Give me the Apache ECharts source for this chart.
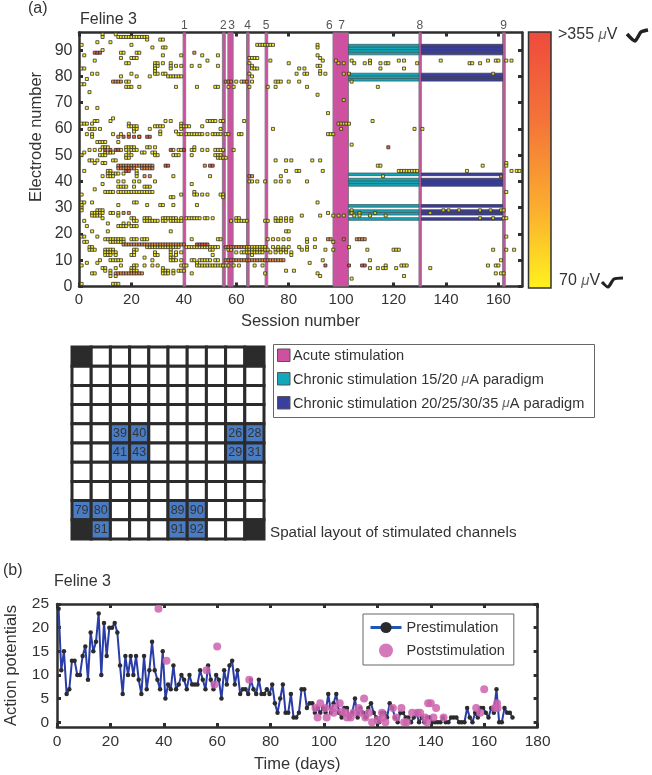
<!DOCTYPE html>
<html><head><meta charset="utf-8">
<style>html,body{margin:0;padding:0;background:#fff}#c{width:652px;height:775px}</style>
<script src="https://cdn.jsdelivr.net/npm/echarts@6/dist/echarts.min.js"></script>
</head><body><div id="c"></div>
<script>
// ---------- panel (a): spike raster, rows of [electrode, [sessions]] ----------
const yellowRows = [
[96,[9,14]],[95,[9,15,16,17,18,19,20,21,22,23,24,25,26]],[94,[26,31,32]],[93,[7,12]],
[92,[1,20,68,69,70,71,72,73,74,91]],[91,[28,32,33,91]],[90,[9]],[89,[16,17,22,23]],
[88,[2,32,39,47,53,91]],[87,[16,20,21,22,65,66,67,68,92]],[86,[6,49,73,93,98,104,111,122,124,138,156,159,160,163,165]],
[85,[18,19,29,30,32,35,65,80,99,101,105,109,111,115,117,118,129,149,150,153]],
[84,[29,30,35,37,39,43,46,53,66,91,92]],[83,[1,2,29,35,66,67,68,84,86,115,124]],[82,[29,92]],
[81,[5,7,20,29,30,32,33,65,83,86,87,92,94,101,103,158]],[80,[16,22,27,34,35,36,37,38,39,66]],[79,[3]],
[78,[18,19,60,62,66,75,76,77,80,84,104]],[77,[1,2]],[76,[18,19,20,23,37,45,52,53,57,59,65,72,75,87,114]],
[74,[4]],[73,[91]],[71,[101]],[68,[3,7]],[66,[95]],[64,[13]],[63,[6,7,12,33,35,49,50,51,52,54,55,63,112]],
[62,[1,2,3,5,19,39,99,100,101,102,103]],[61,[19,20,21,22,29,30,31,32,39,40,41,42,47]],
[60,[4,5,6,8,21,22,27,39,54,74,100,128,131]],[59,[21,31,37]],[58,[3,5,13,16,19,31,38,39,41,42,43,44,45,46,47,49,51,52,53,54,56,57,61,62,95,96,97]],
[57,[5,23]],[55,[7,8,9,10,15]],[54,[104]],[53,[9,10,11,18,19,20,21,26,27,29,44]],
[52,[4,6,8,16,18,20,21,22,36,38,39,43,44,47,49,52,53,54,55,59]],[51,[2,10,11,12,13,19,24,25,28,29]],
[50,[1,8,9,10,18,20,29,30,36,37,38,43,52,53,54]],[49,[18,19,53,54,55,56]],[48,[4,5,7,13,14,75,79,81,89,92]],
[47,[6,9,10,163]],[46,[114,115,154,163]],[44,[2,11,12,22,79,83,84,93,122,123,124,125,126,127,128,129,148,165,167,168]],
[43,[11,12,13,14,15,17,22]],[42,[9,11,12,13,22,36,50,77,116]],[40,[15,17,21,23,29,65,66,68,71,75,77,80,87]],
[39,[9,43]],[38,[15,16,17,18,21,25,26,27]],[37,[6]],[36,[10,11,12,13,15,16,17,18,19,20,21,22,23,24,25,26,27,28,44,163]],
[35,[1,39,44,45,47,49,54,55]],[34,[35,36,55]],[32,[1,2,5,21,22,91]],[31,[1,15,26,31,32,36,45]],[30,[1]],
[29,[1,7,8,9,104,139,141,145,153,157,161,162]],[28,[5,6,7,8,9,12,13,15,95,104,107,113,134]],
[27,[5,6,7,8,15,85,92,97,99,101,105,107,111,117]],
[26,[9,20,21,25,26,27,32,33,34,35,36,37,39,41,42,43,44,45,46,48,49,51,60,61,75,77,79,81,153,158,162,163]],
[25,[2,21,22,25,26,27,28,29,30,32,33,35,36,37,38,39,58,60,61,62,63,64,71,72,75,76,77,79,81]],
[24,[11,17,19]],[23,[3,15,16,17,18,20,21,22]],[21,[5,11,35,79,80]],[19,[1,2,7,163]],
[18,[10,11,12,13,14,15,16,17,20,21,22,24,25,26,43,53,54,72,74,76,78,80,87,90]],[17,[2,3,12,13,14,15,16,17,87,97]],
[15,[4,5,26,27,28,29,30,31,32,33,34,35,36,37,38,41,42,43,44,45,46,47,48,49,50,51,52,53,64,65,66,67,68,69,70,71,74,76,78,80,84,87,90,103]],
[14,[4,5,6,10,11,12,13,21,22,35,50,51,57,58,64,65,66,67,68,69,70,71,72,75,76,77,78,79,85,87,94,97,110,120,121,122,158,163,166]],
[13,[10,11,12,13,14,21,29,35,37,39,60,62,63,64,65,66,67,68,69,70,73,75,77,79,81]],
[12,[10,11,12,14,20,21,29,30,35,37,51,66,81]],[11,[25,35,36]],
[10,[8,12,13,14,15,16,28,35,36,37,39,43,44,46,47,48,49,50,52,53,93,111,161]],[9,[3,7,45,88]],
[8,[1,16,21,22,25,28,30,39,40,41,45,46,47,48,49,50,51,52,53,54,55,56,57,59,61,67,70,117,123,124,125,156,159,160]],
[7,[9,10,14,20,21,32,111,114,116,117,121,134]],[6,[10,12,20,21,22,32,33,34,36,38,39,40,79,82]],
[5,[5,6,12,32,33,34,36,43,71,91,159,161,162]],[4,[12,14,92,124]],[3,[104]],[1,[1,13,14,15]]
];
const orangeRows = [
[89,[44]],[78,[13,14,15,16,56,57,58,63,64]],[57,[15,23]],[46,[15,16,17,18,19,20,21,22,23,24,25,26,27,28,48]],
[45,[15,16,17,18,19,20,21,24,25,26,27,28]],[42,[25,27,65,66]],[28,[17,19]],[18,[95,96,101,106,107,108,109]],
[16,[17,18,19,20,21,22,23,24,25,26,27,28,29,30,31,32,33,34,35,36,37,38,39,40]],[42,[161]],
[15,[56,57,58,59,60,61,62,63]],[10,[56,57,58,59,60,61,62,63,64,65,66,67,68,69,70,71,72,73,74,75,76,77,78]],
[5,[14,15,16,17,18,19,20,21,22,23,24]]
];
const redRows = [
[89,[6,7,8]],[57,[17,19,21,26,27]],[52,[10,12,14,15,35,40]],[46,[33,34,50,51]],[44,[18,19]],[16,[45,46,47,48,49]],
[53,[118]],[8,[94,103,108,109]]
];
// stimulation sessions
const acuteBands = [[39.7,40.7],[54.7,55.8],[56.8,58.8],[63.9,64.9],[71,72],[96.9,97.9],[97.9,102.8],[129.7,130.6],[161.6,162.6]];
const acuteNumbers = ['1','2','3','4','5','6','7','8','9'];
const acuteNumberAt = [40.2,55.1,58.2,64.3,71.4,95.5,100.2,130,162];
const chronicLowSpan = [102.8,129.7];
const chronicHighSpan = [130.6,161.6];
const stimulatedElectrodes = [26,28,29,31,39,40,41,43,79,80,81,89,90,91,92];
const rasterXTicks = [0,20,40,60,80,100,120,140,160];
const rasterYTicks = [0,10,20,30,40,50,60,70,80,90];
// spatial layout of the array
const groundCells = [[0,0],[9,0],[0,9],[9,9]];
const stimulatedCells = [[2,4,'39'],[3,4,'40'],[8,4,'26'],[9,4,'28'],[2,5,'41'],[3,5,'43'],[8,5,'29'],[9,5,'31'],
[0,8,'79'],[1,8,'80'],[5,8,'89'],[6,8,'90'],[1,9,'81'],[5,9,'91'],[6,9,'92']];
// ---------- panel (b) ----------
const prestimValues = [24,11,15,6,7,13,13,10,10,14,16,9,19,15,17,23,10,21,14,20,20,21,19,12,6,14,10,14,10,14,9,6,14,7,11,17,11,9,7,15,5,8,7,12,7,8,10,9,7,10,8,8,8,11,9,7,12,9,7,10,9,
5,11,8,12,13,8,11,6,7,7,6,9,7,6,9,6,6,7,6,8,4,2,5,8,2,2,6,1,1,2,7,7,3,4,4,2,3,2,3,2,6,2,4,6,2,1,3,3,1,2,5,1,3,2,1,3,4,2,1,0,2,2,1,4,3,1,0,2,2,1,1,0,1,2,0,1,0,1,
1,0,0,0,0,1,0,0,1,1,1,0,0,0,3,1,0,2,1,3,3,2,1,3,2,7,0,0,3,2,2,1];
const poststimDays = [38,41,56,59,60,72,96.8,97.6,98.6,100.5,101,103.6,103.6,105.9,106.7,108,108.6,110,111,113,113.6,115,115.5,116.8,118,120.1,121.7,122,123,125.8,127,129,130,131,133,135,136,137.9,138.6,139,140,141,142,144.8,157,158.5,160,164,164.8,165];
const poststimValues = [24,13,11,8,16,9,3,1,4,3,1,3,2,4,2.3,2,1,1,2,3,2,5,1,2,0,0.5,2,1,0,3,1,3,0,0,2,2,2,1,0,4,4,1,3,1,3,2,7,3,4,3];
const timeTicks = [0,20,40,60,80,100,120,140,160,180];
const apTicks = [0,5,10,15,20,25];

// ---------- helpers ----------
const FONT = 'Liberation Sans, Arial, sans-serif';
const INK = '#2e2e2e', TXT = '#333';
const flatten = rows => rows.flatMap(r => r[1].map(s => [s, r[0]]));
const spikeSeries = (rows, color) => ({
  type:'scatter', xAxisIndex:0, yAxisIndex:0, data:flatten(rows), symbol:'rect', symbolSize:3, z:5,
  itemStyle:{color, borderColor:'#333', borderWidth:1}, silent:true
});
const rectItem = (api, x0, x1, y0, y1, style) => {
  const a = api.coord([x0,y1]), b = api.coord([x1,y0]);
  return {type:'rect', shape:{x:a[0],y:a[1],width:b[0]-a[0],height:b[1]-a[1]}, style};
};
const axisCommon = {
  axisLine:{show:true,onZero:false,lineStyle:{color:INK,width:2.5}},
  axisTick:{inside:true,length:4,lineStyle:{color:INK,width:3}},
  splitLine:{show:false}
};
const mirror = (type, gridIndex, position, min, max, ticks) => ({
  ...axisCommon, type, gridIndex, position, min, max,
  axisTick:{...axisCommon.axisTick, customValues:ticks},
  axisLabel:{show:false}
});
const main = (type, gridIndex, position, min, max, ticks, name, gap, labelSize, labelMargin) => ({
  ...axisCommon, type, gridIndex, position, min, max, name, nameLocation:'middle', nameGap:gap,
  nameTextStyle:{fontFamily:FONT,fontSize:16.5,color:TXT},
  axisTick:{...axisCommon.axisTick, customValues:ticks},
  axisLabel:{customValues:ticks,fontFamily:FONT,fontSize:labelSize,color:TXT,margin:labelMargin,hideOverlap:false,showMinLabel:true,showMaxLabel:true}
});
const txt = (x,y,text,size,extra,el) => Object.assign({type:'text',x,y,silent:true,style:Object.assign({text,fontFamily:FONT,fontSize:size,fill:TXT,textVerticalAlign:'middle'},extra||{})},el||{});
const muRich = (s)=>({a:{fontFamily:FONT,fontSize:s,fill:TXT,color:TXT},m:{fontFamily:FONT,fontSize:s-1,fontStyle:'italic',fill:'#666',color:'#666'}});
const richTxt = (x,y,text,s) => ({type:'text',x,y,silent:true,style:{text,rich:muRich(s),fontFamily:FONT,fontSize:s,fill:TXT,textVerticalAlign:'middle'}});

const legendRows = [
  {color:'#cf4fa0',y:349,text:'{a|Acute stimulation}'},
  {color:'#10a8ba',y:372.5,text:'{a|Chronic stimulation 15/20 }{m|\u03bc}{a|A paradigm}'},
  {color:'#3a3f9e',y:396.5,text:'{a|Chronic stimulation 20/25/30/35 }{m|\u03bc}{a|A paradigm}'}
];
const barStops = [{offset:0,color:'#ef4a3c'},{offset:0.35,color:'#f47438'},{offset:0.7,color:'#fbb02e'},{offset:1,color:'#fff21e'}];

const chart = echarts.init(document.getElementById('c'),null,{renderer:'canvas'});
chart.setOption({
  animation:false, backgroundColor:'#fff',
  textStyle:{fontFamily:FONT},
  grid:[
    {left:79,top:32.5,width:443,height:254,outerBoundsMode:'none'},
    {left:72,top:347,width:192,height:192,outerBoundsMode:'none'},
    {left:57,top:604,width:480.6,height:123,outerBoundsMode:'none'}
  ],
  xAxis:[
    main('value',0,'bottom',0,169,rasterXTicks,'Session number',26,15,6),
    Object.assign(mirror('value',0,'top',0,169,rasterXTicks),{axisLabel:{show:true,customValues:acuteNumberAt,margin:1,fontFamily:FONT,fontSize:12,color:'#555',
      formatter:(v)=>acuteNumbers[acuteNumberAt.indexOf(v)]||''}}),
    {type:'value',gridIndex:1,min:0,max:10,show:false},
    main('value',2,'bottom',0,180,timeTicks,'Time (days)',29,15.5,7),
    mirror('value',2,'top',0,180,timeTicks)
  ],
  yAxis:[
    Object.assign(main('value',0,'left',0,96.7,rasterYTicks,'',42,16,6.5),{name:''}),
    mirror('value',0,'right',0,96.7,rasterYTicks),
    {type:'value',gridIndex:1,min:0,max:10,inverse:true,show:false},
    main('value',2,'left',-1,25,apTicks,'Action potentials',37,15.5,8),
    mirror('value',2,'right',-1,25,apTicks)
  ],
  legend:{
    show:true, left:363, top:614, orient:'vertical', padding:[6,9,7,6], itemGap:8, itemWidth:31, itemHeight:14,
    backgroundColor:'#fff', borderColor:'#666', borderWidth:1, selectedMode:false,
    textStyle:{fontFamily:FONT,fontSize:14.5,color:TXT},
    data:[{name:'Prestimulation',lineStyle:{color:'#2255b5',width:3}},{name:'Poststimulation'}]
  },
  series:[
    {type:'custom',xAxisIndex:0,yAxisIndex:0,data:acuteBands,z:2,silent:true,clip:true,
      encode:{x:[0,1]},
      renderItem:(p,api)=>rectItem(api,api.value(0),api.value(1),0,96.7,{fill:'#cf4fa0',stroke:'#8a7a88',lineWidth:1})},
    {type:'custom',xAxisIndex:0,yAxisIndex:0,data:stimulatedElectrodes,z:3,silent:true,
      renderItem:(p,api)=>rectItem(api,chronicLowSpan[0],chronicLowSpan[1],api.value(0)-0.8,api.value(0)+0.2,{fill:'#0fa7b8',stroke:'#3d5f66',lineWidth:0.8})},
    {type:'custom',xAxisIndex:0,yAxisIndex:0,data:stimulatedElectrodes,z:3,silent:true,
      renderItem:(p,api)=>rectItem(api,chronicHighSpan[0],chronicHighSpan[1],api.value(0)-0.8,api.value(0)+0.2,{fill:'#3a3f9e',stroke:'#3c3c5c',lineWidth:0.8})},
    spikeSeries(yellowRows,'#ffee00'),
    spikeSeries(orangeRows,'#f27a1e'),
    spikeSeries(redRows,'#e8301e'),
    // electrode map
    {type:'custom',xAxisIndex:2,yAxisIndex:2,silent:true,z:3,
      data:Array.from({length:100},(_,i)=>[i%10,Math.floor(i/10)]),
      renderItem:(p,api)=>{
        const c=api.value(0), r=api.value(1);
        const grounded=groundCells.some(g=>g[0]===c&&g[1]===r);
        const st=stimulatedCells.find(g=>g[0]===c&&g[1]===r);
        const a=api.coord([c,r]), b=api.coord([c+1,r+1]);
        return {type:'rect',shape:{x:a[0],y:a[1],width:b[0]-a[0],height:b[1]-a[1]},
          style:{fill:grounded?'#2b2b2b':st?'#4a7cc4':'#fff',stroke:'#2b2b2b',lineWidth:3},
          textContent:st?{type:'text',style:{text:st[2],fontFamily:FONT,fontSize:12.5,fill:'#333'}}:undefined,
          textConfig:st?{position:'inside'}:undefined};
      }},
    // panel b
    {name:'Prestimulation',type:'line',xAxisIndex:3,yAxisIndex:3,z:3,silent:true,
      data:prestimValues.map((v,i)=>[i+0.6,v]),symbol:'circle',symbolSize:4.5,showAllSymbol:true,
      lineStyle:{color:'#2a3da6',width:2},itemStyle:{color:'#2b2b2b',borderWidth:0}},
    {name:'Poststimulation',type:'scatter',xAxisIndex:3,yAxisIndex:3,z:5,silent:true,
      data:poststimDays.map((d,i)=>[d,poststimValues[i]]),symbol:'circle',symbolSize:8,
      itemStyle:{color:'#cc62ad',opacity:0.85}}
  ],
  graphic:{elements:[
    txt(28,9,'(a)',16), txt(3,571,'(b)',16),
    txt(80,20,'Feline 3',16), txt(54,582,'Feline 3',16),
    txt(36,137,'Electrode number',16.5,{textAlign:'center'},{rotation:Math.PI/2}),
    // colour bar
    {type:'rect',silent:true,shape:{x:528.5,y:32,width:22.5,height:256},
      style:{fill:new echarts.graphic.LinearGradient(0,0,0,1,barStops),stroke:'#333',lineWidth:1.5}},
    richTxt(558,35,'{a|>355 }{m|\u03bc}{a|V}',16),
    richTxt(559,281,'{a|70 }{m|\u03bc}{a|V}',16),
    {type:'polyline',silent:true,shape:{points:[[627,34],[635,41],[641,32],[648,30]],smooth:0.2},style:{stroke:'#222',lineWidth:3.5,fill:'none'}},
    {type:'polyline',silent:true,shape:{points:[[602,282],[608,287],[614,279],[623,278]],smooth:0.2},style:{stroke:'#222',lineWidth:3.2,fill:'none'}},
    // key
    {type:'rect',silent:true,shape:{x:273.5,y:344.5,width:321,height:73},style:{fill:'#fff',stroke:'#666',lineWidth:1}},
    ...legendRows.flatMap(r=>[
      {type:'rect',silent:true,shape:{x:277.5,y:r.y,width:12.5,height:12.5},style:{fill:r.color,stroke:'#555',lineWidth:1}},
      richTxt(293,r.y+7,r.text,14.6)
    ]),
    txt(270,533,'Spatial layout of stimulated channels',15.2)
  ]}
});
</script></body></html>
